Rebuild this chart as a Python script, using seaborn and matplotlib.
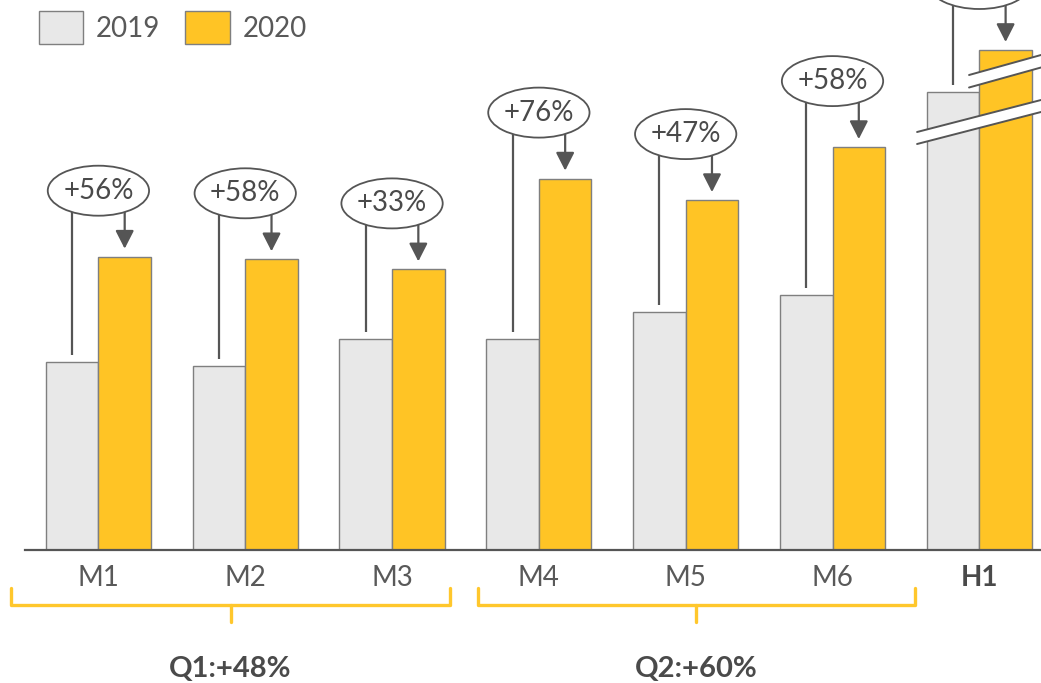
import numpy as np
import pandas as pd
import matplotlib
matplotlib.use("Agg")
import matplotlib.pyplot as plt
import seaborn as sns
from matplotlib.patches import Ellipse, Polygon, Patch

# Monthly sales (index units), first half of the year
months = ["M1", "M2", "M3", "M4", "M5", "M6"]
sales_2019 = [188, 184, 211, 211, 238, 255]
growth_pct = [56, 58, 33, 76, 47, 58]
sales_2020 = [round(b * (1 + g / 100), 1) for b, g in zip(sales_2019, growth_pct)]

# H1 totals are drawn on a broken scale
h1_shown_2019 = 458
h1_shown_2020 = 500
h1_growth = round((sum(sales_2020) / sum(sales_2019) - 1) * 100)

quarter_labels = ["Q1:+48%", "Q2:+60%"]
years = ["2019", "2020"]

C_2019 = "#E8E8E8"
C_2020 = "#FFC425"
EDGE = "#7F7F7F"
DARK = "#555555"
TXT = "#4A4A4A"
BRACKET = "#FFC72C"

categories = months + ["H1"]
df = pd.DataFrame({
    "cat": categories * 2,
    "year": [years[0]] * 7 + [years[1]] * 7,
    "value": sales_2019 + [h1_shown_2019] + sales_2020 + [h1_shown_2020],
})

sns.set_theme(style="white")
plt.rcParams["font.family"] = ["Lato", "DejaVu Sans"]

fig = plt.figure(figsize=(10.41, 6.83), dpi=100)
ax = fig.add_axes([25 / 1041, 1 - 550 / 683, 1016 / 1041, 550 / 683])

sns.barplot(data=df, x="cat", y="value", hue="year", order=categories,
            hue_order=years, palette=[C_2019, C_2020], saturation=1,
            width=0.716, edgecolor=EDGE, linewidth=1.0, ax=ax, legend=False,
            zorder=2)

ax.set_xlim(-0.5, 6.42)
ax.set_ylim(0, 550)
ax.set_xlabel("")
ax.set_ylabel("")
ax.set_yticks([])
for s in ["top", "left", "right"]:
    ax.spines[s].set_visible(False)
ax.spines["bottom"].set_color(DARK)
ax.spines["bottom"].set_linewidth(1.6)
ax.tick_params(axis="x", length=0, pad=10.5, labelsize=20, labelcolor="#595959")
for lbl in ax.get_xticklabels():
    if lbl.get_text() == "H1":
        lbl.set_fontweight("bold")
        lbl.set_color(TXT)

off = 0.179
tops_2019 = sales_2019 + [h1_shown_2019]
tops_2020 = sales_2020 + [h1_shown_2020]
labels = [f"+{g}%" for g in growth_pct] + [f"+{h1_growth}%"]

# growth callouts
for i, (t19, t20, lab) in enumerate(zip(tops_2019, tops_2020, labels)):
    cy = t20 + 66
    ax.plot([i - off, i - off], [cy, t19 + 7], color=DARK, lw=1.6,
            zorder=3, clip_on=False, solid_capstyle="butt")
    ax.annotate("", xy=(i + off, t20 + 8), xytext=(i + off, cy),
                arrowprops=dict(arrowstyle="-|>,head_length=0.55,head_width=0.28",
                                mutation_scale=20, color=DARK, lw=1.6,
                                shrinkA=0, shrinkB=0),
                zorder=3, annotation_clip=False)
    ax.add_patch(Ellipse((i, cy), width=0.69, height=50, facecolor="white",
                         edgecolor=DARK, lw=1.3, zorder=4, clip_on=False))
    ax.text(i, cy, lab, ha="center", va="center", fontsize=20, color=TXT,
            zorder=5, clip_on=False)

# scale-break marks on the H1 bars
def break_band(x0, x1, y_left, y_right, gap):
    poly = Polygon([[x0, y_left], [x1, y_right], [x1, y_right - gap], [x0, y_left - gap]],
                   closed=True, facecolor="white", edgecolor="none", zorder=6,
                   clip_on=False)
    ax.add_patch(poly)
    for d in (0, gap):
        ax.plot([x0, x1], [y_left - d, y_right - d], color=DARK, lw=1.4,
                zorder=7, clip_on=False)

h1 = 6
break_band(h1 - 0.424, 6.42, h1_shown_2019 - 40, h1_shown_2019 - 8, 12)
break_band(h1 - 0.07, 6.42, h1_shown_2020 - 25, h1_shown_2020 - 5, 12.5)

# quarter brackets below the axis
spans = [(-0.593, 2.393), (2.584, 5.562)]
for (x0, x1), q in zip(spans, quarter_labels):
    xm = (x0 + x1) / 2
    ax.plot([x0, x0, x1, x1], [-38, -55, -55, -38], color=BRACKET, lw=2.4,
            clip_on=False, solid_joinstyle="round")
    ax.plot([xm, xm], [-55, -72], color=BRACKET, lw=2.4, clip_on=False)
    ax.text(xm, -119, q, ha="center", va="center", fontsize=21,
            fontweight="bold", color=TXT, clip_on=False)

handles = [Patch(facecolor=C_2019, edgecolor=EDGE, lw=1.0),
           Patch(facecolor=C_2020, edgecolor=EDGE, lw=1.0)]
fig.legend(handles, years, loc="upper left", bbox_to_anchor=(14 / 1041, 1 + 14 / 683),
           ncol=2, frameon=False, fontsize=20, handlelength=1.6, handleheight=1.45,
           handletextpad=0.45, columnspacing=0.9, labelcolor="#595959")

fig.savefig("out.png", dpi=100)
